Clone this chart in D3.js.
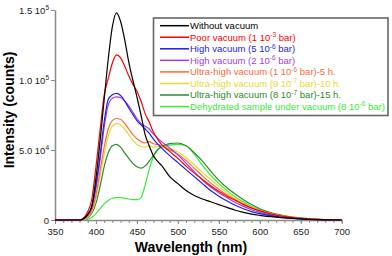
<!DOCTYPE html>
<html>
<head>
<meta charset="utf-8">
<script src="https://cdn.jsdelivr.net/npm/d3@7"></script>
<style>
  body { margin: 0; background: #fff; }
  svg { font-family: "Liberation Sans", Arial, sans-serif; }
</style>
</head>
<body>
<div id="chart"></div>
<script>
//////////////////////// Data ////////////////////////

var wavelengths = [350,360,370,380,385,390,395,400,405,410,415,420,425,430,435,440,445,450,455,460,465,470,475,480,490,500,510,520,530,540,550,560,570,580,590,600,620,640,660,680,700];

var withoutVacuum = [0,0,0,0,1000,4000,10000,30000,56000,86000,115000,138000,148000,142000,129000,113000,100000,88000,75000,61000,53000,46000,42000,39000,31000,26000,21000,17500,15000,13000,11000,9000,7000,5500,4200,3300,2000,1100,500,150,0];
var poorVacuum = [0,0,0,0,1500,6000,15000,38000,64000,89000,101000,112000,118000,116000,110000,103000,97000,92000,85000,76000,70000,63000,58000,54000,49000,44000,38500,33500,29000,24500,20500,17000,14000,11000,8500,6500,3500,1800,800,300,0];
var highVacuum5 = [0,0,0,0,1000,4000,10000,25000,46000,70000,86000,89500,90500,89000,85000,80000,75500,71000,68000,65000,62000,58000,54500,51500,46000,41000,36000,31000,26000,21000,17000,13500,10500,8000,6000,4500,2400,1200,500,150,0];
var highVacuum2 = [0,0,0,0,800,3500,9000,23000,43000,66000,82000,87000,88000,87500,85000,81500,77000,72500,69000,67000,65000,61500,58500,56000,51500,46500,40500,34500,28500,23500,19500,16000,12500,9700,7300,5400,2800,1400,600,200,0];
var ultraHigh5h = [0,0,0,0,500,2500,7000,18000,35000,52000,65000,71000,72500,72000,69000,65000,61000,58000,56000,55000,56000,54500,54000,53000,50000,47000,42500,37000,31500,26500,22000,18000,14500,11500,8700,6500,3500,1700,800,300,0];
var ultraHigh10h = [0,0,0,0,300,2000,6000,15000,31000,47000,60000,67000,69000,68000,65000,61000,57000,54000,52500,52000,53000,52000,52500,52500,51000,48500,44500,39500,34000,29000,24000,19500,15500,12000,9000,6700,3600,1800,800,300,0];
var ultraHigh15h = [0,0,0,0,300,1500,5000,12000,24000,38000,48000,53000,54000,52000,48000,44000,40500,38000,37000,38500,42000,46000,50000,52500,54500,55000,53000,48000,42000,35000,28500,23000,18500,14500,11000,8000,4200,2000,900,300,0];
var dehydrated = [0,0,0,0,0,500,2000,4500,8000,11500,14000,15500,16000,16000,15500,15000,14500,14500,16000,25000,36000,45000,50000,52000,53500,54000,53000,47000,39000,32000,26000,21000,16500,13000,9800,7300,3800,1800,800,300,0];

// legend labels: [before superscript, superscript, after]
var seriesLabels = [
  ["Without vacuum", "", ""],
  ["Poor vacuum (1 10", "-3", " bar)"],
  ["High vacuum (5 10", "-6", " bar)"],
  ["High vacuum (2 10", "-6", " bar)"],
  ["Ultra-high vacuum (1 10", "-6", " bar)-5 h."],
  ["Ultra-high vacuum (9 10", "-7", " bar)-10 h."],
  ["Ultra-high vacuum (8 10", "-7", " bar)-15 h."],
  ["Dehydrated sample under vacuum (8 10", "-6", " bar)"]
];
var seriesColors = ["#000000", "#ff0000", "#1c1cf0", "#a040e0", "#ff6a3a", "#dede30", "#2a8a2a", "#33ee33"];
var seriesValues = [withoutVacuum, poorVacuum, highVacuum5, highVacuum2, ultraHigh5h, ultraHigh10h, ultraHigh15h, dehydrated];

var xMajorTicks = [350,400,450,500,550,600,650,700];
var yTicks = [[0, "0", ""], [50000, "5.0 10", "4"], [100000, "1.0 10", "5"], [150000, "1.5 10", "5"]];

//////////////////////// Set-Up ////////////////////////

var width = 392, height = 256;

var svg = d3.select("#chart").append("svg")
  .attr("width", width)
  .attr("height", height);

var x = d3.scaleLinear().domain([350, 700]).range([55, 341.7]);
var y = d3.scaleLinear().domain([0, 150000]).range([220, 10]);

var axisColor = "#8a8a8a";

//////////////////////// Axes ////////////////////////

// minor x ticks
var gxMinor = svg.append("g")
  .attr("transform", "translate(0,220)")
  .call(d3.axisBottom(x).tickValues(d3.range(350, 701, 10)).tickSize(3).tickFormat(""));
gxMinor.select(".domain").remove();
gxMinor.selectAll("line").attr("stroke", axisColor);

var gx = svg.append("g")
  .attr("transform", "translate(0,220)")
  .call(d3.axisBottom(x).tickValues(xMajorTicks).tickSize(4).tickSizeOuter(0).tickPadding(4));
gx.select(".domain").attr("stroke", axisColor).attr("stroke-width", 1.5);
gx.selectAll("line").attr("stroke", axisColor);
gx.selectAll("text").style("font-size", "9.5px").attr("fill", "#222").style("font-family", "Liberation Sans, Arial, sans-serif");

var gy = svg.append("g")
  .attr("transform", "translate(55,0)")
  .call(d3.axisLeft(y).tickValues(yTicks.map(function(d){ return d[0]; })).tickSize(4).tickSizeOuter(0).tickFormat(""));
gy.select(".domain").attr("stroke", axisColor).attr("stroke-width", 1.5);
gy.selectAll("line").attr("stroke", axisColor);

// y tick labels with superscripts
yTicks.forEach(function(t) {
  var txt = svg.append("text")
    .attr("x", 49)
    .attr("y", y(t[0]) + 3.5)
    .attr("text-anchor", "end")
    .attr("fill", "#222")
    .style("font-size", "9.5px");
  txt.append("tspan").text(t[1]);
  if (t[2]) {
    txt.append("tspan").attr("dy", -4).style("font-size", "6.5px").text(t[2]);
  }
});

// axis titles
svg.append("text")
  .attr("x", 191)
  .attr("y", 252)
  .attr("text-anchor", "middle")
  .style("font-size", "14px")
  .style("font-weight", "bold")
  .text("Wavelength (nm)");

svg.append("text")
  .attr("transform", "translate(14,110) rotate(-90)")
  .attr("text-anchor", "middle")
  .style("font-size", "14px")
  .style("font-weight", "bold")
  .text("Intensity (counts)");

//////////////////////// Lines ////////////////////////

var line = d3.line()
  .x(function(d) { return x(d[0]); })
  .y(function(d) { return y(d[1]); })
  .curve(d3.curveMonotoneX);

// draw bottom series first so the black one sits on top like the original
var drawOrder = [7, 6, 5, 4, 3, 2, 1, 0];
drawOrder.forEach(function(i) {
  var pts = wavelengths.map(function(w, j) { return [w, seriesValues[i][j]]; });
  svg.append("path")
    .datum(pts)
    .attr("d", line)
    .attr("fill", "none")
    .attr("stroke", seriesColors[i])
    .attr("stroke-width", 1.2);
});

//////////////////////// Legend ////////////////////////

var lg = svg.append("g");
lg.append("rect")
  .attr("x", 153.5).attr("y", 18)
  .attr("width", 234.5).attr("height", 97.5)
  .attr("fill", "#fff")
  .attr("stroke", "#666")
  .attr("stroke-width", 1.6);

seriesLabels.forEach(function(lab, i) {
  var yy = 25.7 + i * 11.55;
  lg.append("line")
    .attr("x1", 160).attr("x2", 189)
    .attr("y1", yy).attr("y2", yy)
    .attr("stroke", seriesColors[i])
    .attr("stroke-width", 1.5);
  var txt = lg.append("text")
    .attr("x", 190)
    .attr("y", yy + 3.4)
    .attr("fill", seriesColors[i])
    .style("font-size", "9.5px");
  txt.append("tspan").text(lab[0]);
  if (lab[1]) {
    txt.append("tspan").attr("dy", -3.5).style("font-size", "6.5px").text(lab[1]);
    txt.append("tspan").attr("dy", 3.5).text(lab[2]);
  }
});
</script>
</body>
</html>
